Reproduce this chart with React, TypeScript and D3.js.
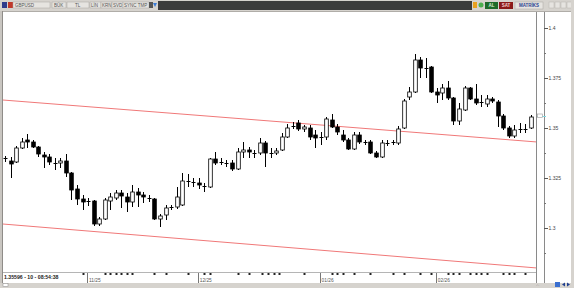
import React from "react";
import * as d3 from "d3";

// OHLC values (GBPUSD daily)
const opens = [1.335,1.3335,1.333,1.340,1.344,1.343,1.3405,1.3365,1.3355,1.3325,1.3325,1.3335,1.3275,1.3195,1.3145,1.313,1.3135,1.302,1.3045,1.3135,1.315,1.3175,1.3155,1.313,1.318,1.3165,1.315,1.3145,1.3045,1.3065,1.310,1.3105,1.3115,1.3235,1.323,1.3225,1.321,1.3205,1.3345,1.333,1.3325,1.3325,1.3295,1.338,1.339,1.3375,1.3375,1.3425,1.3375,1.3375,1.339,1.3455,1.351,1.3525,1.3495,1.350,1.3465,1.3455,1.3455,1.354,1.3505,1.3465,1.344,1.3395,1.3465,1.343,1.343,1.3375,1.3355,1.3425,1.343,1.3425,1.350,1.3655,1.368,1.384,1.380,1.3805,1.368,1.3675,1.370,1.365,1.3535,1.359,1.370,1.3645,1.363,1.362,1.3645,1.363,1.356,1.350,1.346,1.3495,1.3495,1.350];
const highs = [1.336,1.3355,1.341,1.345,1.347,1.344,1.341,1.338,1.337,1.335,1.335,1.337,1.328,1.3215,1.3165,1.315,1.314,1.3055,1.315,1.3175,1.319,1.319,1.3175,1.3215,1.320,1.318,1.3165,1.315,1.307,1.3115,1.3115,1.3205,1.3275,1.327,1.325,1.325,1.3225,1.335,1.338,1.335,1.334,1.334,1.340,1.343,1.3405,1.339,1.345,1.3435,1.340,1.340,1.3475,1.352,1.353,1.354,1.3515,1.3515,1.349,1.348,1.3555,1.357,1.352,1.349,1.345,1.348,1.348,1.344,1.344,1.3385,1.344,1.344,1.344,1.351,1.3645,1.3705,1.387,1.3855,1.385,1.381,1.370,1.372,1.3735,1.3655,1.3625,1.371,1.3705,1.372,1.3665,1.3665,1.3655,1.364,1.357,1.351,1.3515,1.3525,1.352,1.3565];
const lows = [1.333,1.325,1.3325,1.3395,1.340,1.340,1.3355,1.330,1.3315,1.329,1.330,1.3255,1.314,1.3115,1.309,1.311,1.301,1.301,1.304,1.309,1.314,1.310,1.308,1.3105,1.3105,1.3125,1.313,1.304,1.3005,1.304,1.309,1.3095,1.311,1.3205,1.3205,1.3195,1.318,1.320,1.3315,1.3315,1.3305,1.3285,1.329,1.335,1.335,1.335,1.3365,1.3305,1.335,1.3365,1.3385,1.345,1.3495,1.3485,1.348,1.344,1.340,1.3415,1.344,1.350,1.3465,1.343,1.339,1.339,1.342,1.3415,1.337,1.335,1.335,1.341,1.3415,1.3415,1.3495,1.364,1.3675,1.375,1.375,1.3675,1.3625,1.364,1.364,1.3515,1.3515,1.3585,1.364,1.3615,1.3605,1.3605,1.3625,1.3505,1.349,1.345,1.345,1.3475,1.3475,1.3495];
const closes = [1.3345,1.332,1.340,1.343,1.343,1.3405,1.337,1.3355,1.333,1.332,1.3335,1.3275,1.319,1.3145,1.313,1.3135,1.302,1.3045,1.314,1.3155,1.3175,1.316,1.313,1.318,1.3165,1.3155,1.3145,1.3045,1.306,1.310,1.3105,1.3155,1.3235,1.323,1.323,1.3215,1.3205,1.3345,1.3325,1.333,1.332,1.3295,1.338,1.339,1.338,1.3375,1.3425,1.3375,1.3375,1.3385,1.3455,1.350,1.351,1.3495,1.3505,1.3455,1.345,1.3455,1.3545,1.3505,1.348,1.344,1.3395,1.3465,1.343,1.343,1.3375,1.3355,1.3425,1.3425,1.343,1.3495,1.3635,1.368,1.384,1.380,1.380,1.368,1.3665,1.370,1.365,1.3535,1.3595,1.370,1.3645,1.3625,1.363,1.3645,1.3635,1.356,1.350,1.346,1.349,1.3495,1.3495,1.3555];

const priceTicks = [1.3, 1.325, 1.35, 1.375, 1.4];
const minorTicks = [1.2875, 1.3125, 1.3375, 1.3625, 1.3875];
const monthIndex = [15, 35, 57, 78];
const monthLabels = ["11/25", "12/25", "01/26", "02/26"];
const dayTickIndex = [14, 18, 19, 20, 21, 22, 23, 27, 29, 33, 36, 37, 42, 44, 46.5, 47.5, 48.5, 49.5, 54, 59, 60, 61, 63, 66, 70, 72, 75, 77, 80, 81, 82, 84, 85, 86, 87, 90, 91, 92, 94];
const upperChannel = [[-0.4, 1.364], [96.1, 1.343]];
const lowerChannel = [[-0.4, 1.302], [96.1, 1.28]];
const lastPrice = 1.356;
const statusText = "1.35596 - 10 - 08:54:38";

export default function App() {
  const W = 574, H = 288;
  const x = d3.scaleLinear().domain([0, closes.length - 1]).range([5, 531]);
  const y = d3.scaleLinear().domain([1.3, 1.4]).range([228, 28]);
  const bw = 3.6;
  const line = d3.line<number[]>().x(d => x(d[0])).y(d => y(d[1]));
  const font = "'Liberation Sans', Arial, sans-serif";

  const candles = closes.map((c, i) => {
    const o = opens[i], h = highs[i], l = lows[i];
    const cx = Math.round(x(i)) + 0.5;
    const top = y(Math.max(o, c)), bot = y(Math.min(o, c));
    const up = c > o;
    const flat = Math.abs(bot - top) < 1.2;
    return (
      <g key={i}>
        <line x1={cx} x2={cx} y1={y(h)} y2={y(l)} stroke="#000" strokeWidth={1} />
        {flat ? (
          <line x1={cx - 2} x2={cx + 2} y1={Math.round(top) + 0.5} y2={Math.round(top) + 0.5} stroke="#000" strokeWidth={1} />
        ) : (
          <rect x={cx - bw / 2} y={top} width={bw} height={bot - top}
            fill={up ? "#fff" : "#000"} stroke="#000" strokeWidth={0.8} />
        )}
      </g>
    );
  });

  return (
    <svg width={W} height={H} style={{ position: "fixed", left: 0, top: 0, display: "block" }} fontFamily={font}>
      <rect x={0} y={0} width={W} height={H} fill="#d6d3ce" />
      {/* chart white area */}
      <rect x={3} y={11} width={568} height={272} fill="#fff" />
      {/* top toolbar */}
      <rect x={0} y={0} width={W} height={11} fill="#d6d3ce" />
      <rect x={158} y={1} width={314} height={9} fill="#3c3c3c" />
      <rect x={2} y={2} width={5} height={6} fill="#2f3c8c" />
      <rect x={8} y={2} width={5} height={6} fill="#c0392b" />
      <rect x={13} y={2} width={37} height={6} fill="#e6e4e0" stroke="#a8a5a0" strokeWidth={0.5} />
      <text x={15} y={7} fontSize={4.5} fill="#555">GBPUSD</text>
      <rect x={52} y={2} width={14} height={6} fill="#e6e4e0" stroke="#a8a5a0" strokeWidth={0.5} />
      <text x={54} y={7} fontSize={4.5} fill="#555">BÜK</text>
      <rect x={67} y={2} width={22} height={6} fill="#e6e4e0" stroke="#a8a5a0" strokeWidth={0.5} />
      <text x={75} y={7} fontSize={4.5} fill="#555">TL</text>
      <rect x={90} y={2} width={11} height={6} fill="#e6e4e0" stroke="#a8a5a0" strokeWidth={0.5} />
      <text x={91} y={7} fontSize={4.5} fill="#555">LİN</text>
      <rect x={101} y={2} width={11} height={6} fill="#e6e4e0" stroke="#a8a5a0" strokeWidth={0.5} />
      <text x={102} y={7} fontSize={4.5} fill="#555">KRN</text>
      <rect x={112} y={2} width={11} height={6} fill="#e6e4e0" stroke="#a8a5a0" strokeWidth={0.5} />
      <text x={113} y={7} fontSize={4.5} fill="#555">SVD</text>
      <rect x={123} y={2} width={26} height={6} fill="#e6e4e0" stroke="#a8a5a0" strokeWidth={0.5} />
      <text x={124} y={7} fontSize={4.5} fill="#555">SYNC TMP</text>
      <rect x={149} y={2} width={4} height={6} fill="#555" />
      <path d="M153,3 L157,3 L155,7 Z" fill="#3a7bd5" />
      <rect x={473} y={2} width={4} height={6} fill="#e8a020" />
      <circle cx={481} cy={5} r={2.5} fill="#4caf50" />
      <rect x={485} y={2} width={13} height={7} fill="#1e6b2a" />
      <text x={491.5} y={7.3} fontSize={4.5} fill="#d8f0d8" textAnchor="middle" fontWeight="bold">AL</text>
      <rect x={499} y={2} width={14} height={7} fill="#8b1a1a" />
      <text x={506} y={7.3} fontSize={4.5} fill="#f5d0d0" textAnchor="middle" fontWeight="bold">SAT</text>
      <rect x={515} y={2} width={28} height={7} fill="#e6e4e0" stroke="#a8a5a0" strokeWidth={0.5} />
      <text x={529} y={7.3} fontSize={4.5} fill="#2a3f8f" textAnchor="middle" fontWeight="bold">MATRİKS</text>
      {[549, 555, 561, 567].map(v => (
        <rect key={v} x={v} y={2} width={5} height={6} fill="#e6e4e0" stroke="#b8b5b0" strokeWidth={0.5} />
      ))}
      <line x1={3} x2={571} y1={11.5} y2={11.5} stroke="#b0ada8" strokeWidth={1} />

      {/* channel lines */}
      <defs>
        <clipPath id="plot">
          <rect x={3} y={12} width={533} height={260} />
        </clipPath>
      </defs>
      <g clipPath="url(#plot)">
        <path d={line(upperChannel) || ""} stroke="#f07878" strokeWidth={1} fill="none" />
        <path d={line(lowerChannel) || ""} stroke="#f07878" strokeWidth={1} fill="none" />
        {candles}
      </g>

      {/* separators */}
      <line x1={536.5} x2={536.5} y1={12} y2={283} stroke="#8a8a8a" strokeWidth={1} />
      <line x1={544.5} x2={544.5} y1={12} y2={283} stroke="#8a8a8a" strokeWidth={1} />
      <line x1={537} x2={546} y1={y(lastPrice) + 0.5} y2={y(lastPrice) + 0.5} stroke="#7fd8e0" strokeWidth={1} />
      <rect x={537.5} y={y(lastPrice) - 2} width={5} height={3.5} fill="#fff" stroke="#999" strokeWidth={0.6} />

      {/* price axis */}
      {priceTicks.map(p => (
        <g key={p}>
          <line x1={544} x2={548} y1={Math.round(y(p)) + 0.5} y2={Math.round(y(p)) + 0.5} stroke="#555" strokeWidth={1} />
          <text x={548.5} y={y(p) + 2} fontSize={5} fill="#444">{d3.format("")(p)}</text>
        </g>
      ))}
      {minorTicks.map(p => (
        <line key={p} x1={544} x2={546} y1={Math.round(y(p)) + 0.5} y2={Math.round(y(p)) + 0.5} stroke="#777" strokeWidth={1} />
      ))}

      {/* time axis */}
      <line x1={3} x2={536} y1={272.5} y2={272.5} stroke="#b5b5b5" strokeWidth={1} />
      {dayTickIndex.map((d, i) => (
        <rect key={i} x={Math.round(x(d)) - 0.5} y={273} width={2} height={2} fill="#222" />
      ))}
      {monthIndex.map((m, i) => (
        <g key={m}>
          <line x1={Math.round(x(m)) - 0.5} x2={Math.round(x(m)) - 0.5} y1={273} y2={283} stroke="#777" strokeWidth={1} />
          <text x={x(m) + 1} y={281.5} fontSize={4.8} fill="#555">{monthLabels[i]}</text>
        </g>
      ))}
      <text x={4} y={279} fontSize={5.2} fill="#222" fontWeight="bold">{statusText}</text>

      {/* bottom strip */}
      <rect x={0} y={283} width={W} height={5} fill="#d6d3ce" />
      <rect x={3} y={283.5} width={5} height={3} fill="#fff" stroke="#888" strokeWidth={0.5} />
      <text x={536} y={286} fontSize={4} fill="#777">.:.</text>
      <rect x={555} y={282} width={5} height={5} fill="#3a6fd0" />
      <path d="M562,284.5 L565,282.5 L565,286.5 Z" fill="#1f3f8f" />
      <path d="M570,284.5 L567,282.5 L567,286.5 Z" fill="#1f3f8f" />
      <rect x={571} y={0} width={3} height={H} fill="#d6d3ce" />
      <rect x={0} y={11} width={3} height={272} fill="#c9c6c1" />
      <line x1={2.5} x2={2.5} y1={11} y2={283} stroke="#8f8c88" strokeWidth={1} />
    </svg>
  );
}
